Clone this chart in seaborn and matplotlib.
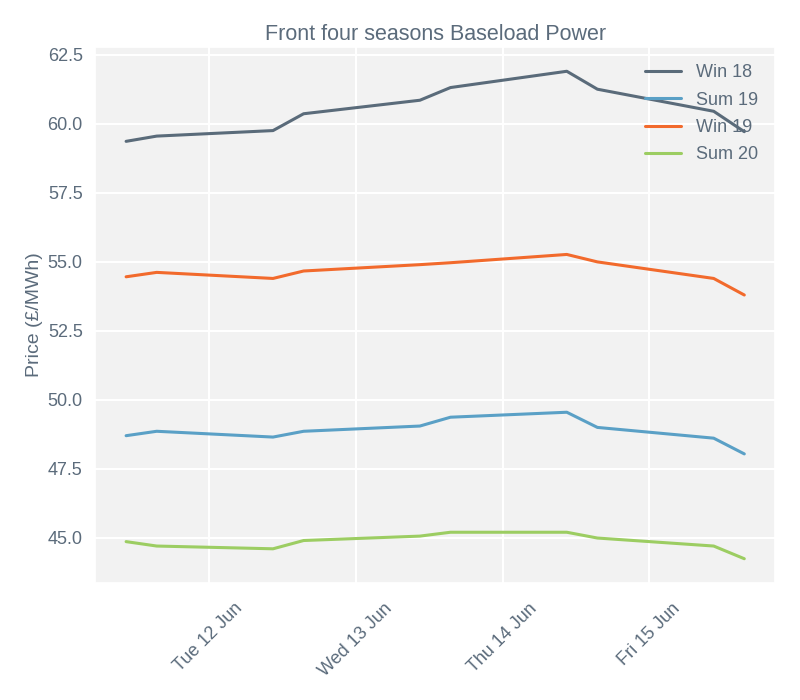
import pandas as pd
import matplotlib.pyplot as plt
import matplotlib.dates as mdates
import seaborn as sns

timestamps = pd.to_datetime([
    "2018-06-11 10:30", "2018-06-11 15:30",
    "2018-06-12 10:30", "2018-06-12 15:30",
    "2018-06-13 10:30", "2018-06-13 15:30",
    "2018-06-14 10:30", "2018-06-14 15:30",
    "2018-06-15 10:30", "2018-06-15 15:30",
])
win18 = [59.37, 59.56, 59.76, 60.37, 60.86, 61.32, 61.91, 61.26, 60.46, 59.72]
sum19 = [48.70, 48.86, 48.65, 48.86, 49.05, 49.37, 49.55, 49.00, 48.61, 48.04]
win19 = [54.46, 54.62, 54.40, 54.67, 54.90, 54.97, 55.27, 55.00, 54.40, 53.80]
sum20 = [44.86, 44.70, 44.60, 44.90, 45.06, 45.20, 45.20, 44.99, 44.70, 44.24]
series_names = ["Win 18", "Sum 19", "Win 19", "Sum 20"]
colours = ["#5a6b7a", "#5aa0c6", "#f26a2c", "#9ccd62"]

text_col = "#5b6b7b"

sns.set_theme(style="darkgrid", rc={
    "axes.facecolor": "#f2f2f2",
    "grid.color": "white",
    "grid.linewidth": 1.5,
    "text.color": text_col,
    "axes.labelcolor": text_col,
    "xtick.color": text_col,
    "ytick.color": text_col,
})
plt.rcParams['font.family'] = ['Liberation Sans', 'DejaVu Sans']

df = pd.DataFrame({
    "time": list(timestamps) * 4,
    "price": win18 + sum19 + win19 + sum20,
    "contract": sum([[n] * len(timestamps) for n in series_names], []),
})

fig = plt.figure(figsize=(8, 7), dpi=100)
ax = fig.add_axes([0.119, 0.167, 0.85, 0.766])
sns.lineplot(data=df, x="time", y="price", hue="contract", palette=colours,
             linewidth=2.2, ax=ax)

ax.xaxis.set_major_locator(mdates.DayLocator())
ax.xaxis.set_major_formatter(mdates.DateFormatter("%a %d %b"))
for lbl in ax.get_xticklabels():
    lbl.set_rotation(45)
    lbl.set_ha("center")
ax.tick_params(labelsize=13, length=0)
ax.tick_params(axis="x", pad=12)
ax.tick_params(axis="y", pad=9)
ax.set_xlabel("")
ax.set_ylabel("Price (£/MWh)", fontsize=14, labelpad=3)
ax.set_title("Front four seasons Baseload Power", fontsize=15.5, color=text_col, pad=5)
ax.legend(frameon=False, loc="upper right", fontsize=13, labelcolor=text_col,
          handlelength=2.0, borderaxespad=0.55, labelspacing=0.58)

fig.savefig("out.png", dpi=100)
